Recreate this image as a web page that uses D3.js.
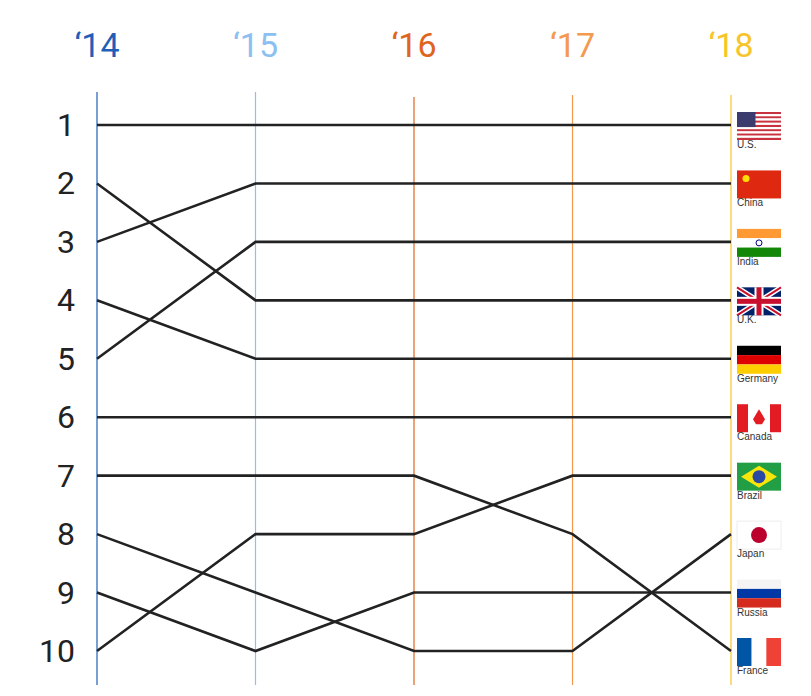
<!DOCTYPE html>
<html><head><meta charset="utf-8">
<script src="https://cdn.jsdelivr.net/npm/d3@7"></script>
<style>body{margin:0;background:#fff}</style>
</head><body><svg id="c" width="811" height="696"></svg>
<script>
const years = ["‘14", "‘15", "‘16", "‘17", "‘18"];
const yearColors = ["#1f5fb8", "#8cc0f2", "#e0651c", "#f39a4f", "#f7c52a"];
const ranks = [1, 2, 3, 4, 5, 6, 7, 8, 9, 10];
const countries = ["U.S.", "China", "India", "U.K.", "Germany", "Canada", "Brazil", "Japan", "Russia", "France"];
const usRank = [1, 1, 1, 1, 1];
const chinaRank = [3, 2, 2, 2, 2];
const indiaRank = [5, 3, 3, 3, 3];
const ukRank = [2, 4, 4, 4, 4];
const germanyRank = [4, 5, 5, 5, 5];
const canadaRank = [6, 6, 6, 6, 6];
const brazilRank = [10, 8, 8, 7, 7];
const japanRank = [8, 9, 10, 10, 8];
const russiaRank = [9, 10, 9, 9, 9];
const franceRank = [7, 7, 7, 8, 10];
const series = [usRank, chinaRank, indiaRank, ukRank, germanyRank, canadaRank, brazilRank, japanRank, russiaRank, franceRank];

const svg = d3.select("#c");
const x = d3.scalePoint().domain(d3.range(years.length)).range([97, 731]);
const y = d3.scaleLinear().domain([1, 10]).range([125, 651]);

// year headers and vertical guides
svg.selectAll(".yr").data(years).enter().append("text")
    .attr("x", (d, i) => x(i)).attr("y", 57)
    .attr("text-anchor", "middle")
    .attr("font-family", "Roboto, 'Liberation Sans', sans-serif")
    .attr("font-size", 34)
    .attr("fill", (d, i) => yearColors[i])
    .text(d => d);
const guideTop = [92, 92, 97, 95, 95];
svg.selectAll(".guide").data(years).enter().append("line")
    .attr("x1", (d, i) => x(i)).attr("x2", (d, i) => x(i))
    .attr("y1", (d, i) => guideTop[i]).attr("y2", 685)
    .attr("stroke", (d, i) => yearColors[i]).attr("stroke-width", 1.2);

// rank labels
svg.selectAll(".rk").data(ranks).enter().append("text")
    .attr("x", 75).attr("y", d => y(d) + 11)
    .attr("text-anchor", "end")
    .attr("font-family", "Roboto, 'Liberation Sans', sans-serif")
    .attr("font-size", 32).attr("fill", "#222")
    .text(d => d);

// rank lines
const line = d3.line().x((d, i) => x(i)).y(d => y(d));
svg.selectAll(".ln").data(series).enter().append("path")
    .attr("d", line).attr("fill", "none")
    .attr("stroke", "#222").attr("stroke-width", 2.6);

// flags
const fx = 737, fw = 44, fh = 28;
function flag(g, name) {
    const r = (xx, yy, w, h, c) => g.append("rect").attr("x", xx).attr("y", yy).attr("width", w).attr("height", h).attr("fill", c);
    if (name === "U.S.") {
        for (let k = 0; k < 13; k++) r(0, k * fh / 13, fw, fh / 13, k % 2 ? "#fff" : "#c8313e");
        r(0, 0, fw * 0.42, fh * 7 / 13, "#3b3b6d");
    } else if (name === "China") {
        r(0, 0, fw, fh, "#de2910");
        g.append("circle").attr("cx", 9).attr("cy", 8).attr("r", 3.5).attr("fill", "#ffde00");
    } else if (name === "India") {
        r(0, 0, fw, fh / 3, "#ff9933"); r(0, fh / 3, fw, fh / 3, "#fff"); r(0, 2 * fh / 3, fw, fh / 3, "#138808");
        g.append("circle").attr("cx", fw / 2).attr("cy", fh / 2).attr("r", 3).attr("fill", "none").attr("stroke", "#000080");
    } else if (name === "U.K.") {
        r(0, 0, fw, fh, "#012169");
        g.append("path").attr("d", `M0,0L${fw},${fh}M${fw},0L0,${fh}`).attr("stroke", "#fff").attr("stroke-width", 5);
        g.append("path").attr("d", `M0,0L${fw},${fh}M${fw},0L0,${fh}`).attr("stroke", "#c8102e").attr("stroke-width", 2);
        r(0, fh / 2 - 4.5, fw, 9, "#fff"); r(fw / 2 - 4.5, 0, 9, fh, "#fff");
        r(0, fh / 2 - 2.5, fw, 5, "#c8102e"); r(fw / 2 - 2.5, 0, 5, fh, "#c8102e");
    } else if (name === "Germany") {
        r(0, 0, fw, fh / 3, "#000"); r(0, fh / 3, fw, fh / 3, "#dd0000"); r(0, 2 * fh / 3, fw, fh / 3, "#ffce00");
    } else if (name === "Canada") {
        r(0, 0, fw, fh, "#fff"); r(0, 0, fw / 4, fh, "#e31b23"); r(3 * fw / 4, 0, fw / 4, fh, "#e31b23");
        g.append("path").attr("d", `M${fw / 2},5L${fw / 2 + 6},15L${fw / 2 + 3},20L${fw / 2 - 3},20L${fw / 2 - 6},15Z`).attr("fill", "#e31b23");
    } else if (name === "Brazil") {
        r(0, 0, fw, fh, "#229e45");
        g.append("path").attr("d", `M${fw / 2},3L${fw - 4},${fh / 2}L${fw / 2},${fh - 3}L4,${fh / 2}Z`).attr("fill", "#f8e509");
        g.append("circle").attr("cx", fw / 2).attr("cy", fh / 2).attr("r", 6.5).attr("fill", "#2b49a3");
    } else if (name === "Japan") {
        r(0, 0, fw, fh, "#fff").attr("stroke", "#eee");
        g.append("circle").attr("cx", fw / 2).attr("cy", fh / 2).attr("r", 8).attr("fill", "#bc002d");
    } else if (name === "Russia") {
        r(0, 0, fw, fh / 3, "#f4f4f4"); r(0, fh / 3, fw, fh / 3, "#0039a6"); r(0, 2 * fh / 3, fw, fh / 3, "#d52b1e");
    } else if (name === "France") {
        r(0, 0, fw / 3, fh, "#0055a4"); r(fw / 3, 0, fw / 3, fh, "#fff"); r(2 * fw / 3, 0, fw / 3, fh, "#ef4135");
    }
}
countries.forEach((name, i) => {
    const ry = y(series[i][years.length - 1]);
    const g = svg.append("g").attr("transform", `translate(${fx},${ry - 13})`);
    flag(g, name);
    svg.append("text").attr("x", fx).attr("y", ry + 23)
        .attr("font-family", "'Liberation Sans', Arial, sans-serif")
        .attr("font-size", 10).attr("fill", "#333").text(name);
});
</script></body></html>
